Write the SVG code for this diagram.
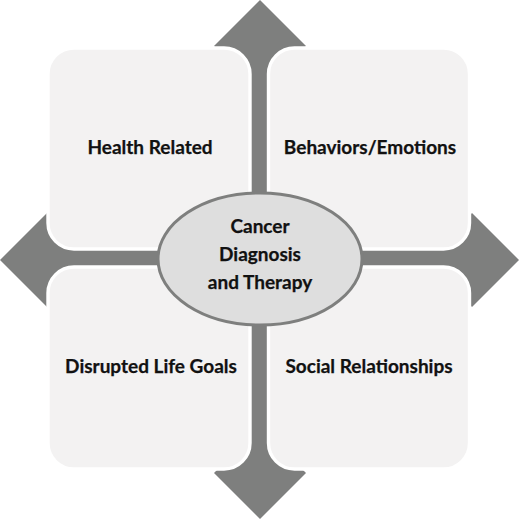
<svg xmlns="http://www.w3.org/2000/svg" width="520" height="519" viewBox="0 0 520 519">
  <style>
    .arrow { fill: #7e7f7e; }
    .box { fill: #f3f2f2; stroke: #ffffff; stroke-width: 3.4; }
    .hub { fill: #dedede; stroke: #7e7f7e; stroke-width: 3; }
    .lbl { font-family: Lato, "Open Sans", "Liberation Sans", sans-serif; font-weight: 700; font-size: 19px; fill: #111111; stroke: #111111; stroke-width: 0.25; text-anchor: middle; }
  </style>
  <rect width="520" height="519" fill="#ffffff"/>
  <g id="connectors">
    <rect class="arrow" x="250" y="40" width="19" height="440"/>
    <rect class="arrow" x="40" y="250" width="440" height="18"/>
    <polygon class="arrow" points="260,0 306,46 260,92 214,46"/>
    <polygon class="arrow" points="260,519 306,473 260,427 214,473"/>
    <polygon class="arrow" points="0,260 47,213 94,260 47,307"/>
    <polygon class="arrow" points="519,260 472,213 425,260 472,307"/>
  </g>
  <g id="health-related">
    <rect class="box" x="48" y="48" width="202" height="201" rx="26" ry="26"/>
    <text class="lbl" x="150" y="154">Health Related</text>
  </g>
  <g id="behaviors-emotions">
    <rect class="box" x="268.5" y="48" width="201" height="201" rx="26" ry="26"/>
    <text class="lbl" x="370" y="154">Behaviors/Emotions</text>
  </g>
  <g id="disrupted-life-goals">
    <rect class="box" x="48" y="267" width="202" height="202" rx="26" ry="26"/>
    <text class="lbl" x="151" y="373">Disrupted Life Goals</text>
  </g>
  <g id="social-relationships">
    <rect class="box" x="268.5" y="267" width="201" height="202" rx="26" ry="26"/>
    <text class="lbl" x="369" y="373">Social Relationships</text>
  </g>
  <g id="cancer-diagnosis-therapy">
    <ellipse class="hub" cx="260" cy="259" rx="102" ry="66"/>
    <text class="lbl" x="260" y="233">Cancer</text>
    <text class="lbl" x="260" y="261">Diagnosis</text>
    <text class="lbl" x="260" y="289">and Therapy</text>
  </g>
</svg>
